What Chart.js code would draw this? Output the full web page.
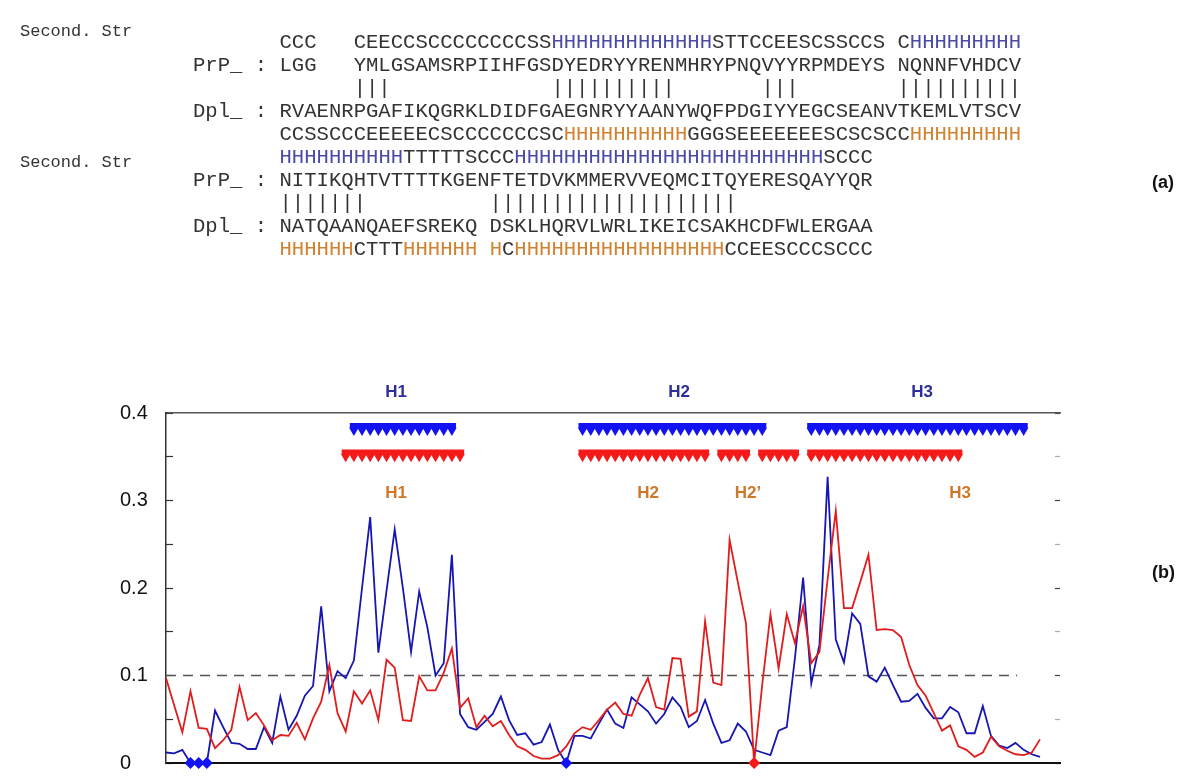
<!DOCTYPE html>
<html><head><meta charset="utf-8">
<script src="https://cdn.jsdelivr.net/npm/chart.js@4/dist/chart.umd.min.js"></script>
<style>
html,body{margin:0;padding:0;background:#fff;}
#wrap{position:relative;width:1200px;height:782px;overflow:hidden;background:#fff;}
#c{position:absolute;left:0;top:0;}
#seq{position:absolute;left:193px;top:31px;margin:0;font-family:"Liberation Mono","Courier New",monospace;font-size:20.6px;line-height:23px;color:#333;white-space:pre;}
.b{color:#4b4ba6}.o{color:#d2822e}
.lab{position:absolute;left:20px;font-family:"Liberation Mono",monospace;font-size:17px;line-height:17px;color:#333;white-space:pre;transform:translateY(-50%)}
.tag{position:absolute;font-family:"Liberation Sans",Arial,sans-serif;font-weight:bold;font-size:18px;line-height:18px;color:#111;transform:translateY(-50%)}
.h{position:absolute;font-family:"Liberation Sans",Arial,sans-serif;font-weight:bold;font-size:17px;line-height:17px;transform:translate(-50%,-50%);white-space:pre}
.hb{color:#2e2e9a}.ho{color:#d0782a}
</style>
</head><body>
<div id="wrap">
<canvas id="c" width="1200" height="782"></canvas>
<pre id="seq"></pre>
<div class="lab" style="top:31px">Second. Str</div>
<div class="lab" style="top:162px">Second. Str</div>
<div class="tag" style="left:1152px;top:182px">(a)</div>
<div class="tag" style="left:1152px;top:572px">(b)</div>
<div class="h hb" style="left:396px;top:391px">H1</div>
<div class="h hb" style="left:679px;top:391px">H2</div>
<div class="h hb" style="left:922px;top:391px">H3</div>
<div class="h ho" style="left:396px;top:492px">H1</div>
<div class="h ho" style="left:648px;top:492px">H2</div>
<div class="h ho" style="left:748px;top:492px">H2’</div>
<div class="h ho" style="left:960px;top:492px">H3</div>
</div>
<script>
// ---------- alignment text (a) ----------
const prpSS1  = "CCC   CEECCSCCCCCCCCSSHHHHHHHHHHHHHSTTCCEESCSSCCS CHHHHHHHHH";
const prpSeq1 = "LGG   YMLGSAMSRPIIHFGSDYEDRYYRENMHRYPNQVYYRPMDEYS NQNNFVHDCV";
const bars1   = "      |||             ||||||||||       |||        ||||||||||";
const dplSeq1 = "RVAENRPGAFIKQGRKLDIDFGAEGNRYYAANYWQFPDGIYYEGCSEANVTKEMLVTSCV";
const dplSS1  = "CCSSCCCEEEEECSCCCCCCCSCHHHHHHHHHHGGGSEEEEEEESCSCSCCHHHHHHHHH";
const prpSS2  = "HHHHHHHHHHTTTTTSCCCHHHHHHHHHHHHHHHHHHHHHHHHHSCCC";
const prpSeq2 = "NITIKQHTVTTTTKGENFTETDVKMMERVVEQMCITQYERESQAYYQR";
const bars2   = "|||||||          ||||||||||||||||||||";
const dplSeq2 = "NATQAANQAEFSREKQ DSKLHQRVLWRLIKEICSAKHCDFWLERGAA";
const dplSS2  = "HHHHHHCTTTHHHHHH HCHHHHHHHHHHHHHHHHHCCEESCCCSCCC";

// ---------- profile data (b) ----------
const residues = Array.from({length:108},(_,i)=>i);
const prpScore = [0.012,0.011,0.015,0,0,0,0.060,0.041,0.023,0.022,
 0.016,0.016,0.041,0.023,0.076,0.038,0.054,0.077,0.088,0.179,
 0.082,0.105,0.097,0.117,0.200,0.281,0.126,0.197,0.267,0.200,
 0.127,0.196,0.155,0.100,0.114,0.238,0.056,0.041,0.038,0.047,
 0.056,0.076,0.049,0.032,0.034,0.021,0.024,0.044,0.015,0,
 0.031,0.031,0.028,0.045,0.061,0.045,0.040,0.075,0.067,0.059,
 0.045,0.056,0.075,0.064,0.041,0.048,0.072,0.045,0.023,0.026,
 0.045,0.036,0.015,0.012,0.009,0.037,0.041,0.120,0.212,0.091,
 0.135,0.327,0.141,0.115,0.171,0.159,0.099,0.093,0.109,0.089,
 0.070,0.071,0.079,0.063,0.051,0.051,0.064,0.058,0.034,0.034,
 0.065,0.031,0.020,0.017,0.023,0.015,0.010,0.007];
const dplScore = [0.097,0.066,0.035,0.082,0.040,0.039,0.017,0.026,0.038,0.087,
 0.049,0.057,0.043,0.026,0.032,0.031,0.046,0.027,0.051,0.070,
 0.112,0.057,0.036,0.082,0.068,0.083,0.049,0.118,0.109,0.049,
 0.048,0.099,0.083,0.083,0.103,0.131,0.063,0.074,0.041,0.054,
 0.042,0.048,0.032,0.019,0.015,0.008,0.005,0.005,0.009,0.019,
 0.034,0.041,0.038,0.049,0.061,0.069,0.056,0.054,0.078,0.097,
 0.064,0.061,0.120,0.119,0.053,0.059,0.162,0.092,0.089,0.255,
 0.207,0.160,0,0.090,0.170,0.108,0.170,0.137,0.179,0.114,
 0.127,0.210,0.288,0.177,0.177,0.207,0.238,0.152,0.153,0.152,
 0.144,0.112,0.089,0.077,0.057,0.037,0.043,0.019,0.015,0.007,
 0.012,0.030,0.019,0.014,0.010,0.009,0.012,0.027];
const prpGaps = [3,4,5,49];
const dplGaps = [72];
const prpHelices = [[23,35],[51,73],[79,105]];
const dplHelices = [[22,36],[51,66],[68,71],[73,77],[79,97]];
const cutoff = 0.1;
const cutoffRange = [0,104.2];
const yTickValues = [0,0.1,0.2,0.3,0.4];
const yTickLabels = ['0','0.1','0.2','0.3','0.4'];

// ---------- build text ----------
const pad = "       ";
function esc(s){return s.replace(/&/g,'&amp;').replace(/</g,'&lt;');}
function col(s,cls){return cls? esc(s).replace(/H+/g,m=>'<span class="'+cls+'">'+m+'</span>') : esc(s);}
const rows = [
  col(pad+prpSS1,'b'), col("PrP_ : "+prpSeq1), col(pad+bars1), col("Dpl_ : "+dplSeq1), col(pad+dplSS1,'o'),
  col(pad+prpSS2,'b'), col("PrP_ : "+prpSeq2), col(pad+bars2), col("Dpl_ : "+dplSeq2), col(pad+dplSS2,'o')
];
document.getElementById('seq').innerHTML = rows.join('\n');

// ---------- chart ----------
const X_MAX = 109.45;
const BLUE = '#1616b0', RED = '#e01c1c', BLUE_M = '#1212f2', RED_M = '#f41a1a';
const pts = arr => arr.map((v,i)=>({x:residues[i], y:v}));
const gapPts = arr => arr.map(i=>({x:residues[i], y:0}));
function teeth(ranges, y){const o=[];ranges.forEach(([a,b])=>{for(let i=a;i<=b;i++)o.push({x:i,y:y});});return o;}
function strips(ranges, y){const o=[];ranges.forEach(([a,b])=>{o.push({x:a-0.5,y:y},{x:b+0.5,y:y},{x:b+0.6,y:null});});return o;}

const base = {xAxisID:'x', yAxisID:'y', clip:false, tension:0};
const datasets = [
  Object.assign({}, base, {type:'line', data:cutoffRange.map(x=>({x:x,y:cutoff})), borderColor:'#555', borderWidth:1.3, borderDash:[10,7], pointRadius:0, order:9}),
  Object.assign({}, base, {type:'line', data:pts(prpScore), borderColor:BLUE, borderWidth:1.8, pointRadius:0, order:4}),
  Object.assign({}, base, {type:'line', data:pts(dplScore), borderColor:RED, borderWidth:1.8, pointRadius:0, order:3}),
  Object.assign({}, base, {type:'line', showLine:false, data:gapPts(prpGaps), pointStyle:'rectRot', pointRadius:6, backgroundColor:BLUE_M, borderWidth:0, order:0}),
  Object.assign({}, base, {type:'line', showLine:false, data:gapPts(dplGaps), pointStyle:'rectRot', pointRadius:6, backgroundColor:RED_M, borderWidth:0, order:0}),
  Object.assign({}, base, {type:'line', data:strips(prpHelices,0.3857), borderColor:BLUE_M, borderWidth:5, pointRadius:0, spanGaps:false, order:1}),
  Object.assign({}, base, {type:'line', showLine:false, data:teeth(prpHelices,0.3800), pointStyle:'triangle', rotation:180, pointRadius:5.5, backgroundColor:BLUE_M, borderWidth:0, order:1}),
  Object.assign({}, base, {type:'line', data:strips(dplHelices,0.3554), borderColor:RED_M, borderWidth:5, pointRadius:0, spanGaps:false, order:1}),
  Object.assign({}, base, {type:'line', showLine:false, data:teeth(dplHelices,0.3500), pointStyle:'triangle', rotation:180, pointRadius:5.5, backgroundColor:RED_M, borderWidth:0, order:1})
];

const near = (v,t)=>Math.abs(v-t)<1e-6;
new Chart(document.getElementById('c'), {
  type:'line',
  data:{datasets:datasets},
  options:{
    responsive:false, animation:false, devicePixelRatio:1, events:[],
    layout:{padding:{left:120, right:140, top:413, bottom:19}},
    plugins:{legend:{display:false}, tooltip:{enabled:false}},
    scales:{
      x:{type:'linear', position:'bottom', min:0, max:X_MAX, ticks:{display:false}, grid:{display:false},
         border:{display:true, color:'#111', width:2}, afterFit:s=>{s.height=0;}},
      x2:{type:'linear', position:'top', min:0, max:X_MAX, ticks:{display:false}, grid:{display:false},
         border:{display:true, color:'#555', width:1.5}, afterFit:s=>{s.height=0;}},
      y:{type:'linear', position:'left', min:0, max:0.4,
         ticks:{stepSize:0.05, autoSkip:false, crossAlign:'far', color:'#111',
                font:{family:'"Liberation Sans", Arial, sans-serif', size:20},
                callback:v=>{const k=yTickValues.findIndex(t=>near(t,v)); return k>=0? yTickLabels[k] : '';}},
         grid:{display:true, drawOnChartArea:false, drawTicks:true, tickLength:-7, tickColor:'#333', tickWidth:1.2},
         border:{display:true, color:'#333', width:1.5}, afterFit:s=>{s.width=46;}},
      y2:{type:'linear', position:'right', min:0, max:0.4,
         ticks:{stepSize:0.05, autoSkip:false, display:false},
         grid:{display:true, drawOnChartArea:false, drawTicks:true, tickLength:-5,
               tickColor:c=>yTickValues.some(t=>near(t,c.tick.value))?'#444':'#aaa', tickWidth:1.2},
         border:{display:false}, afterFit:s=>{s.width=0;}}
    }
  }
});
</script>
</body></html>
